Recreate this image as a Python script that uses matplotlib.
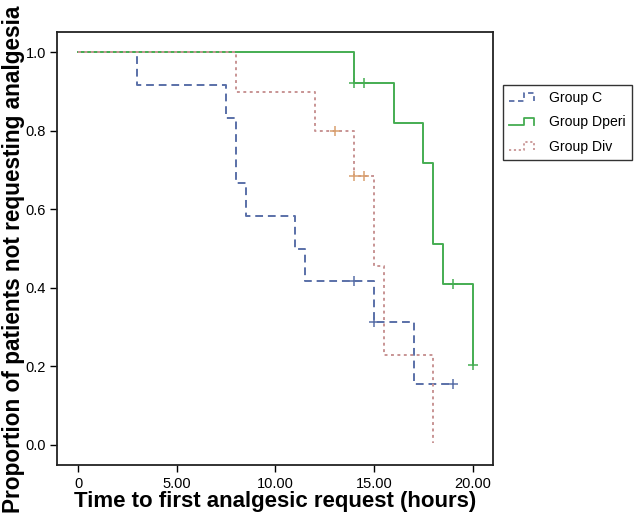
import matplotlib
matplotlib.use("Agg")
import matplotlib.pyplot as plt
from matplotlib.lines import Line2D
from matplotlib.legend_handler import HandlerBase

plt.rcParams['font.family'] = ['Liberation Sans', 'DejaVu Sans']

# ---- data (Kaplan-Meier step curves) ----
c_times = [0, 3.0, 7.5, 8.0, 8.5, 11.0, 11.5, 15.0, 17.0, 19.0]
c_surv = [1.0, 0.917, 0.833, 0.667, 0.583, 0.500, 0.417, 0.3125, 0.156, 0.156]
c_cens_t = [14.0, 15.0, 19.0]
c_cens_s = [0.417, 0.3125, 0.156]

d_times = [0, 14.0, 16.0, 17.5, 18.0, 18.5, 20.0]
d_surv = [1.0, 0.923, 0.821, 0.718, 0.513, 0.410, 0.205]
d_cens_t = [14.0, 14.5, 19.0, 20.0]
d_cens_s = [0.923, 0.923, 0.410, 0.205]

v_times = [0, 8.0, 12.0, 14.0, 15.0, 15.5, 18.0]
v_surv = [1.0, 0.900, 0.800, 0.686, 0.457, 0.229, 0.005]
v_cens_t = [13.0, 14.0, 14.5]
v_cens_s = [0.800, 0.686, 0.686]

labels = ["Group C", "Group Dperi", "Group Div"]
x_ticks = [0, 5, 10, 15, 20]
x_ticklabels = ["0", "5.00", "10.00", "15.00", "20.00"]
y_ticks = [0.0, 0.2, 0.4, 0.6, 0.8, 1.0]
y_ticklabels = ["0.0", "0.2", "0.4", "0.6", "0.8", "1.0"]

blue = "#5a70a8"
green = "#45ad52"
pink = "#c89494"
pink_c = "#d9a070"

fig = plt.figure(figsize=(6.34, 5.2), dpi=100)
ax = fig.add_axes([57/634, 1-465/520, (493-57)/634, (465-32)/520])

lw = 1.4
ax.step(c_times, c_surv, where='post', color=blue, lw=lw, linestyle=(0, (4, 2.5)))
ax.step(d_times, d_surv, where='post', color=green, lw=lw, linestyle='-')
ax.step(v_times, v_surv, where='post', color=pink, lw=lw, linestyle=(0, (1.5, 1.8)))

ax.plot(c_cens_t, c_cens_s, '+', color=blue, ms=6.5, mew=1.1)
ax.plot(d_cens_t, d_cens_s, '+', color=green, ms=6.5, mew=1.1)
ax.plot(v_cens_t, v_cens_s, '+', color=pink_c, ms=6.5, mew=1.1)

ax.set_xlim(-1.08, 21.03)
ax.set_ylim(-0.051, 1.052)
ax.set_xticks(x_ticks)
ax.set_xticklabels(x_ticklabels)
ax.set_yticks(y_ticks)
ax.set_yticklabels(y_ticklabels)
ax.tick_params(direction='out', length=5, width=1, labelsize=10.5, colors='black', pad=3)
ax.tick_params(axis='x', pad=4)
for s in ax.spines.values():
    s.set_linewidth(1.3)
    s.set_color('#222222')

ax.set_xlabel("Time to first analgesic request (hours)", fontsize=16, fontweight='bold', labelpad=0)
ax.set_ylabel("Proportion of patients not requesting analgesia", fontsize=16.3, fontweight='bold')
ax.yaxis.set_label_coords(-0.073, 0.475)


class StepHandler(HandlerBase):
    def __init__(self, color, ls):
        super().__init__()
        self.color = color
        self.ls = ls

    def create_artists(self, legend, orig_handle, xdescent, ydescent, width, height, fontsize, trans):
        x0 = -xdescent
        y0 = -ydescent
        lo = y0 + 0.1 * height
        hi = y0 + 0.9 * height
        xs = [x0, x0 + 0.5 * width, x0 + 0.5 * width, x0 + 0.85 * width, x0 + 0.85 * width]
        ys = [lo, lo, hi, hi, lo]
        line = Line2D(xs, ys, color=self.color, linestyle=self.ls, lw=1.3)
        line.set_transform(trans)
        return [line]


h1, h2, h3 = Line2D([], []), Line2D([], []), Line2D([], [])
leg = fig.legend([h1, h2, h3], labels,
                 handler_map={h1: StepHandler(blue, (0, (3, 2))),
                              h2: StepHandler(green, '-'),
                              h3: StepHandler(pink, (0, (1.2, 1.5)))},
                 loc='upper left', bbox_to_anchor=(503/634, 1-85/520),
                 fontsize=10.1, frameon=True, fancybox=False, edgecolor='black',
                 handlelength=2.1, handletextpad=0.7, labelspacing=0.72,
                 borderpad=0.45, borderaxespad=0)
leg.get_frame().set_linewidth(1.0)

fig.savefig("out.png", dpi=100)
